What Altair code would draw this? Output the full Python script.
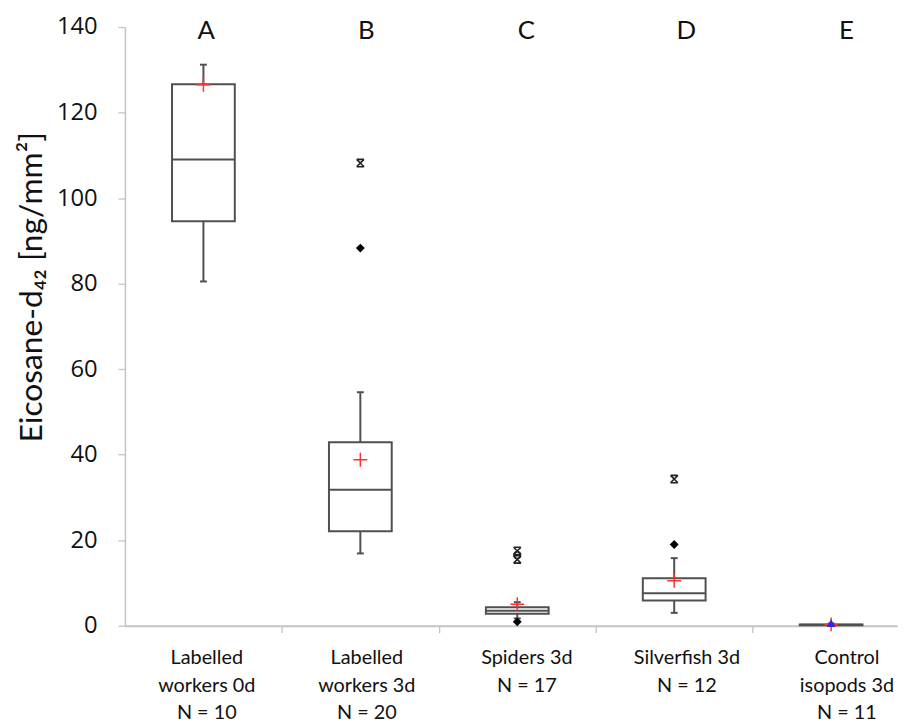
import json
import altair as alt
import pandas as pd

# ---- data ----
categories = ["Labelled workers 0d", "Labelled workers 3d", "Spiders 3d",
              "Silverfish 3d", "Control isopods 3d"]
label_lines = [["Labelled", "workers 0d"], ["Labelled", "workers 3d"],
               ["Spiders 3d"], ["Silverfish 3d"], ["Control", "isopods 3d"]]
n_values = [10, 20, 17, 12, 11]
letters = ["A", "B", "C", "D", "E"]

whisker_low = [80.5, 16.9, 1.7, 3.0, 0.05]
q1 = [94.6, 22.1, 2.8, 5.9, 0.1]
median = [109.0, 31.8, 3.5, 7.6, 0.2]
q3 = [126.6, 42.9, 4.3, 11.1, 0.3]
whisker_high = [131.2, 54.6, 5.5, 15.8, 0.5]
mean = [126.5, 38.8, 5.0, 10.5, 0.3]

# extra points: category index, value, marker kind
pt_cat = [1, 1, 2, 2, 2, 2, 3, 3, 4]
pt_val = [108.2, 88.3, 17.5, 16.5, 15.5, 0.9, 34.3, 19.0, 0.6]
pt_kind = ["star", "diamond", "star", "circle", "star", "diamond", "star", "diamond", "triangle"]

y_ticks = [0, 20, 40, 60, 80, 100, 120, 140]
y_title = "Eicosane-d\u2084\u2082 [ng/mm\u00b2]"

# ---- tables ----
idx = list(range(len(categories)))
box_df = pd.DataFrame({"i": idx, "cat": categories, "wlo": whisker_low, "q1": q1,
                       "med": median, "q3": q3, "whi": whisker_high, "mean": mean})
pts_df = pd.DataFrame({"i": pt_cat, "v": pt_val, "kind": pt_kind})
letters_df = pd.DataFrame({"i": idx, "letter": letters})

full_labels = [lines + ["N = %d" % n] for lines, n in zip(label_lines, n_values)]
label_expr = json.dumps(full_labels) + "[datum.value]"

TEXT = "#111111"
LINE = "#505050"
AXIS = "#c4c4c4"
BOX_HALF = 0.2
CAP_HALF = 0.022

xscale = alt.Scale(domain=[-0.5, 4.42], nice=False, zero=False)
xaxis = alt.Axis(orient="bottom", values=[0.5, 1.5, 2.5, 3.5], labels=False, title=None,
                 grid=False, domainColor=AXIS, domainWidth=2, tickColor=AXIS,
                 tickSize=7, tickWidth=1.3)
yscale = alt.Scale(domain=[0, 140], nice=False, zero=True)
yaxis = alt.Axis(values=y_ticks, grid=False, title=y_title, domainColor=AXIS, domainWidth=1.5,
                 tickColor=AXIS, tickSize=7, tickWidth=1.3, labelFont="Open Sans",
                 labelFontSize=24, labelColor=TEXT, labelPadding=21, labelFlush=False,
                 titleFont="Lato", titleFontSize=32, titleFontWeight="normal",
                 titleColor=TEXT, titleX=-94, titleY=262, titleAngle=270,
                 titleAlign="center", titleBaseline="middle")


def X(field, **kw):
    return alt.X(field, type="quantitative", scale=xscale, axis=xaxis, **kw)


def Y(field):
    return alt.Y(field, type="quantitative", scale=yscale, axis=yaxis)


base = alt.Chart(box_df).transform_calculate(
    lo="datum.i - %f" % BOX_HALF, hi="datum.i + %f" % BOX_HALF,
    clo="datum.i - %f" % CAP_HALF, chi="datum.i + %f" % CAP_HALF)

whisk_low = base.mark_rule(color=LINE, strokeWidth=2).encode(x=X("i"), y=Y("wlo"), y2="q1:Q")
whisk_high = base.mark_rule(color=LINE, strokeWidth=2).encode(x=X("i"), y=Y("q3"), y2="whi:Q")
cap_low = base.mark_rule(color=LINE, strokeWidth=2).encode(x=X("clo"), x2="chi:Q", y=Y("wlo"))
cap_high = base.mark_rule(color=LINE, strokeWidth=2).encode(x=X("clo"), x2="chi:Q", y=Y("whi"))
boxes = base.mark_rect(fill="white", stroke=LINE, strokeWidth=2).encode(
    x=X("lo"), x2="hi:Q", y=Y("q1"), y2="q3:Q")
medians = base.mark_rule(color=LINE, strokeWidth=2).encode(x=X("lo"), x2="hi:Q", y=Y("med"))

pts = alt.Chart(pts_df)
stars = pts.transform_filter("datum.kind == 'star'").mark_point(
    shape="M-1,-1L1,1M-1,1L1,-1M-1,-1H1M-1,1H1", size=55, filled=False,
    stroke="#222222", strokeWidth=1.6, opacity=1).encode(x=X("i"), y=Y("v"))
circles = pts.transform_filter("datum.kind == 'circle'").mark_point(
    shape="circle", size=45, filled=False, stroke="#222222", strokeWidth=1.4,
    opacity=1).encode(x=X("i"), y=Y("v"))
diamonds = pts.transform_filter("datum.kind == 'diamond'").mark_point(
    shape="diamond", size=80, filled=True, color="#000000", opacity=1).encode(
    x=X("i"), y=Y("v"))
triangles = pts.transform_filter("datum.kind == 'triangle'").mark_point(
    shape="triangle-up", size=80, filled=True, color="#2a2ae0", opacity=1).encode(
    x=X("i"), y=Y("v"))

means = base.mark_point(shape="M-1,0H1M0,-1V1", size=196, filled=False,
                        stroke="#ff3030", strokeWidth=1.5, opacity=1).encode(
    x=X("i"), y=Y("mean"))

main = alt.layer(whisk_low, whisk_high, cap_low, cap_high, boxes, medians,
                 stars, circles, diamonds, means, triangles)

letter_x = alt.X("i:Q", scale=alt.Scale(domain=[-0.508, 4.316], nice=False, zero=False),
                 axis=alt.Axis(orient="bottom", values=idx, labelExpr=label_expr,
                               domain=False, ticks=False, grid=False, title=None,
                               labelFont="Lato", labelFontSize=20, labelLineHeight=28,
                               labelColor=TEXT, labelPadding=22, labelFlush=False,
                               labelOverlap=False, labelBaseline="top", labelAlign="center"))
letter_layer = alt.Chart(letters_df).transform_calculate(ypos="139").mark_text(
    font="Lato", fontSize=26, baseline="middle", align="center", color=TEXT).encode(
    x=letter_x, y=Y("ypos"), text="letter:N")

chart = alt.layer(main, letter_layer).resolve_scale(x="independent").properties(
    width=779, height=604,
    autosize=alt.AutoSizeParams(type="none"),
    padding={"left": 118, "top": 16, "right": 4, "bottom": 100},
    background="white",
).configure_view(stroke=None)

chart.save("out.html", embed_options={"renderer": "svg", "actions": False})
